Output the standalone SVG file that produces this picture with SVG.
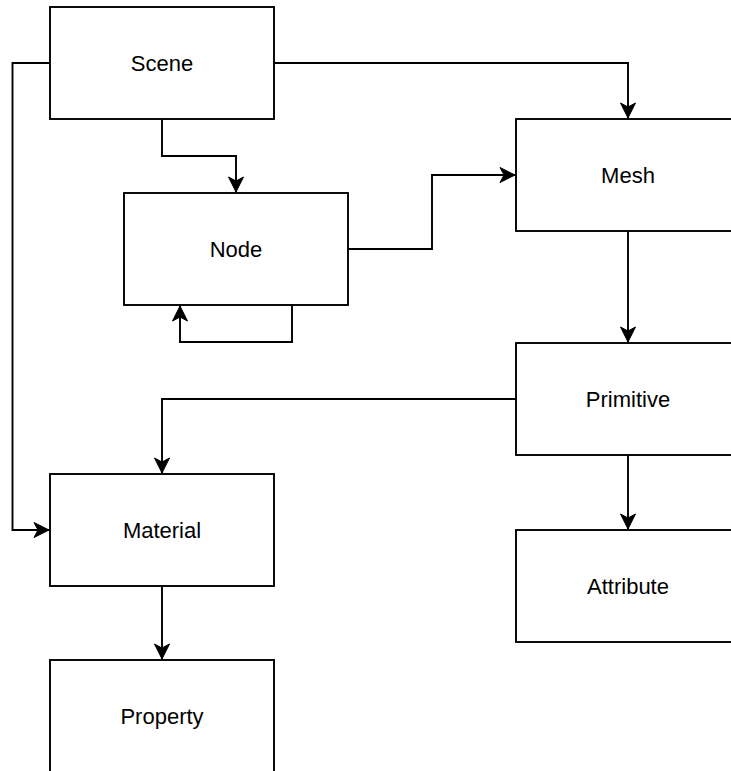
<svg xmlns="http://www.w3.org/2000/svg" width="731" height="771" viewBox="0 0 731 771">
<style>
.box{fill:#fff;stroke:#000;stroke-width:1.9}
.lbl{font-family:"Liberation Sans",Arial,sans-serif;font-size:22px;fill:#000;text-anchor:middle}
.edge{fill:none;stroke:#000;stroke-width:1.9;marker-end:url(#arr)}
</style>
<defs>
<marker id="arr" markerUnits="userSpaceOnUse" viewBox="-16 -8 17 16" markerWidth="17" markerHeight="16" refX="0" refY="0" orient="auto">
<path d="M0,0 L-15,-7.5 L-11,0 L-15,7.5 Z" fill="#000" stroke="#000" stroke-width="1"/>
</marker>
</defs>
<rect width="731" height="771" fill="#fff"/>
<g id="connectors">
<path class="edge" d="M162,119 V156 H236 V192"/>
<path class="edge" d="M274,63 H628 V118"/>
<path class="edge" d="M50,63 H12.5 V530 H49"/>
<path class="edge" d="M348,249 H432 V175 H515"/>
<path class="edge" d="M292,305 V342 H180 V306"/>
<path class="edge" d="M628,231 V342"/>
<path class="edge" d="M516,399 H162 V473"/>
<path class="edge" d="M628,455 V529"/>
<path class="edge" d="M162,586 V659"/>
</g>
<g id="scene"><rect class="box" x="50" y="7" width="224" height="112"/><text class="lbl" x="162" y="71">Scene</text></g>
<g id="node"><rect class="box" x="124" y="193" width="224" height="112"/><text class="lbl" x="236" y="257">Node</text></g>
<g id="mesh"><rect class="box" x="516" y="119" width="224" height="112"/><text class="lbl" x="628" y="183">Mesh</text></g>
<g id="primitive"><rect class="box" x="516" y="343" width="224" height="112"/><text class="lbl" x="628" y="407">Primitive</text></g>
<g id="material"><rect class="box" x="50" y="474" width="224" height="112"/><text class="lbl" x="162" y="538">Material</text></g>
<g id="attribute"><rect class="box" x="516" y="530" width="224" height="112"/><text class="lbl" x="628" y="594">Attribute</text></g>
<g id="property"><rect class="box" x="50" y="660" width="224" height="112"/><text class="lbl" x="162" y="724">Property</text></g>
</svg>
